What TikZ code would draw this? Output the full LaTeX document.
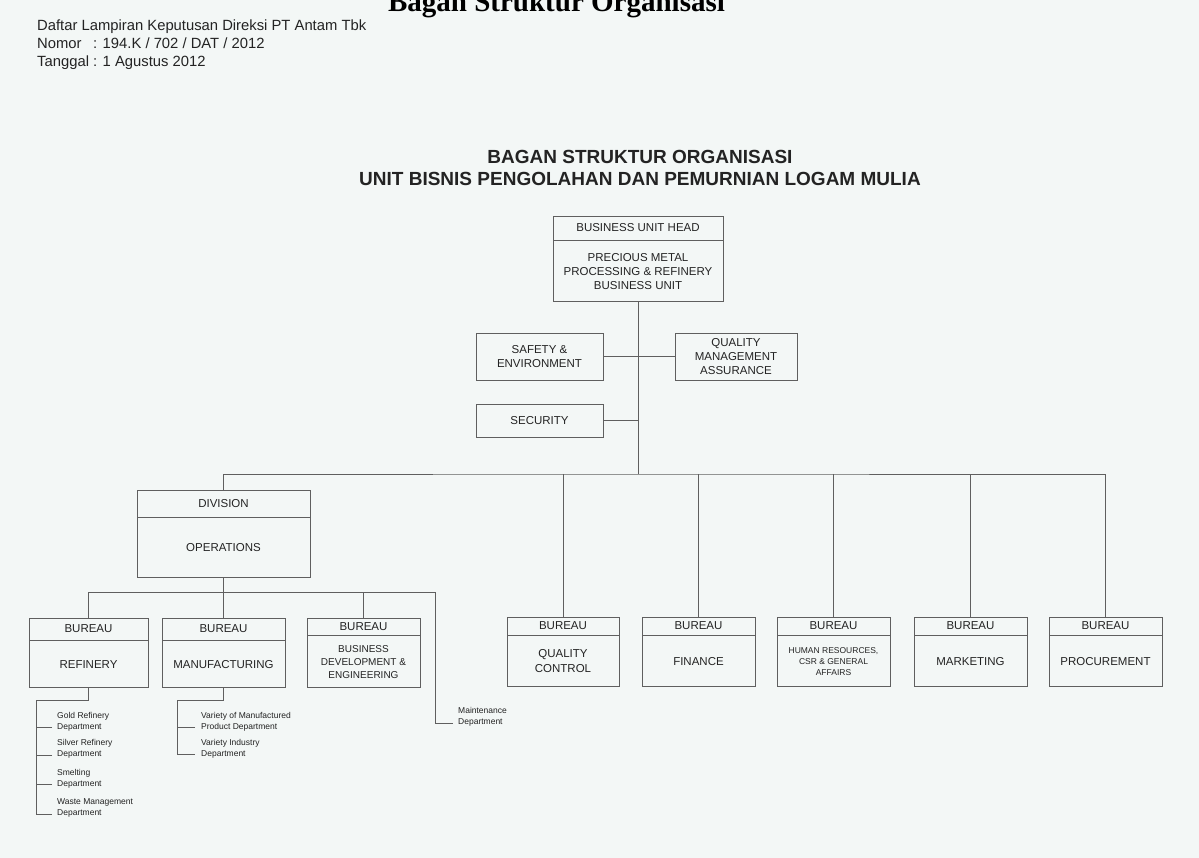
\documentclass[tikz,border=0pt]{standalone}
\usepackage{fontspec}
\setmainfont{Liberation Sans}
\newfontfamily\bagantitlefont{Liberation Serif}
\usetikzlibrary{positioning}
\definecolor{scanPaper}{RGB}{243,247,246}
\definecolor{scanLine}{RGB}{95,95,95}
\definecolor{scanInk}{RGB}{35,35,35}

\begin{document}
\begin{tikzpicture}[
  x=1pt, y=-1pt,
  unitcell/.style={
    draw=scanLine,
    line width=0.8pt,
    align=center,
    inner sep=1pt,
    text=scanInk,
    font=\fontsize{11.5}{14}\selectfont
  },
  deptnote/.style={
    anchor=west,
    align=left,
    inner sep=0pt,
    text=scanInk,
    font=\fontsize{8.5}{11}\selectfont
  },
  orgline/.style={draw=scanLine,line width=0.8pt}
]
  \useasboundingbox (0,0) rectangle (1199,858);
  \fill[scanPaper] (0,0) rectangle (1199,858);

  % page header
  \node[anchor=base,text=black,font=\bagantitlefont\bfseries\fontsize{29}{32}\selectfont] (bagan)
    at (556.5,12) {Bagan Struktur Organisasi};
  \node[anchor=north west,inner sep=0pt,text=scanInk,font=\fontsize{14.8}{18}\selectfont] (decree)
    at (37,18) {\begin{tabular}{@{}l@{\ }l@{}}
      \multicolumn{2}{@{}l@{}}{Daftar Lampiran Keputusan Direksi PT Antam Tbk}\\
      Nomor & : 194.K / 702 / DAT / 2012\\
      Tanggal & : 1 Agustus 2012
    \end{tabular}};
  \node[align=center,text=scanInk,font=\bfseries\fontsize{19}{22}\selectfont] (charttitle)
    at (640,168) {BAGAN STRUKTUR ORGANISASI\\UNIT BISNIS PENGOLAHAN DAN PEMURNIAN LOGAM MULIA};

  % business unit head and staff
  \node[unitcell,minimum width=170,minimum height=24] (headT) at (638,228)
    {BUSINESS UNIT HEAD};
  \node[unitcell,minimum width=170,minimum height=61,below=0pt of headT] (headB)
    {PRECIOUS METAL\\PROCESSING \& REFINERY\\BUSINESS UNIT};
  \node[unitcell,minimum width=127,minimum height=47] (safety) at (539.5,356.5)
    {SAFETY \&\\ENVIRONMENT};
  \node[unitcell,minimum width=122,minimum height=47] (qma) at (736,356.5)
    {QUALITY\\MANAGEMENT\\ASSURANCE};
  \node[unitcell,minimum width=127,minimum height=33] (security) at (539.5,420.5)
    {SECURITY};

  % division
  \node[unitcell,minimum width=173,minimum height=27] (divT) at (223.5,503.5)
    {DIVISION};
  \node[unitcell,minimum width=173,minimum height=60,below=0pt of divT] (divB)
    {OPERATIONS};

  % bureaus under operations
  \node[unitcell,minimum width=119,minimum height=22] (refT) at (88.5,629) {BUREAU};
  \node[unitcell,minimum width=119,minimum height=47,below=0pt of refT] (refB) {REFINERY};
  \node[unitcell,minimum width=123,minimum height=22] (manT) at (223.5,629) {BUREAU};
  \node[unitcell,minimum width=123,minimum height=47,below=0pt of manT] (manB) {MANUFACTURING};
  \node[unitcell,minimum width=113,minimum height=17] (bdeT) at (363.5,626.5) {BUREAU};
  \node[unitcell,minimum width=113,minimum height=52,below=0pt of bdeT,
    font=\fontsize{10}{13}\selectfont] (bdeB) {BUSINESS\\DEVELOPMENT \&\\ENGINEERING};

  % bureaus under the unit head
  \node[unitcell,minimum width=112,minimum height=18] (qcT) at (563,626) {BUREAU};
  \node[unitcell,minimum width=112,minimum height=51,below=0pt of qcT,
    font=\fontsize{11.5}{15}\selectfont] (qcB) {QUALITY\\CONTROL};
  \node[unitcell,minimum width=113,minimum height=18] (finT) at (698.5,626) {BUREAU};
  \node[unitcell,minimum width=113,minimum height=51,below=0pt of finT] (finB) {FINANCE};
  \node[unitcell,minimum width=113,minimum height=18] (hrT) at (833.5,626) {BUREAU};
  \node[unitcell,minimum width=113,minimum height=51,below=0pt of hrT,
    font=\fontsize{8.5}{11}\selectfont] (hrB) {HUMAN RESOURCES,\\CSR \& GENERAL\\AFFAIRS};
  \node[unitcell,minimum width=113,minimum height=18] (mktT) at (970.5,626) {BUREAU};
  \node[unitcell,minimum width=113,minimum height=51,below=0pt of mktT] (mktB) {MARKETING};
  \node[unitcell,minimum width=113,minimum height=18] (procT) at (1105.5,626) {BUREAU};
  \node[unitcell,minimum width=113,minimum height=51,below=0pt of procT] (procB) {PROCUREMENT};

  % departments
  \node[deptnote] (gold) at (57,721.5) {Gold Refinery\\Department};
  \node[deptnote] (silver) at (57,749) {Silver Refinery\\Department};
  \node[deptnote] (smelt) at (57,778.5) {Smelting\\Department};
  \node[deptnote] (waste) at (57,808) {Waste Management\\Department};
  \node[deptnote] (varman) at (201,721.5) {Variety of Manufactured\\Product Department};
  \node[deptnote] (varind) at (201,748.5) {Variety Industry\\Department};
  \node[deptnote] (maint) at (458,717) {Maintenance\\Department};

  % connectors
  \coordinate (unitbus) at (638,474);
  \coordinate (opsbus) at (223.5,592);
  \coordinate (mainttop) at (435,592);
  \coordinate (refspine) at (36,700);
  \coordinate (manspine) at (177,700);

  \draw[orgline] (headB.south) -- (unitbus);
  \draw[orgline] (safety.east) -- (qma.west);
  \draw[orgline] (security.east) -- (security.east -| unitbus);
  \draw[orgline] (divT.north) |- (unitbus) -| (procT.north);
  \foreach \b in {qcT,finT,hrT,mktT}
    \draw[orgline] (\b.north) -- (\b.north |- unitbus);
  \draw[orgline] (divB.south) -- (opsbus);
  \draw[orgline] (refT.north) |- (mainttop) |- ([xshift=-5pt,yshift=-6pt]maint.west);
  \draw[orgline] (manT.north) -- (manT.north |- opsbus);
  \draw[orgline] (bdeT.north) -- (bdeT.north |- opsbus);
  \draw[orgline] (refB.south) |- (refspine) |- ([xshift=-5pt,yshift=-6pt]waste.west);
  \foreach \d in {gold,silver,smelt}
    \draw[orgline] ([xshift=-5pt,yshift=-6pt]\d.west) -- ++(-16,0);
  \draw[orgline] (manB.south) |- (manspine) |- ([xshift=-6pt,yshift=-6pt]varind.west);
  \draw[orgline] ([xshift=-6pt,yshift=-6pt]varman.west) -- ++(-18,0);
\end{tikzpicture}
\end{document}
